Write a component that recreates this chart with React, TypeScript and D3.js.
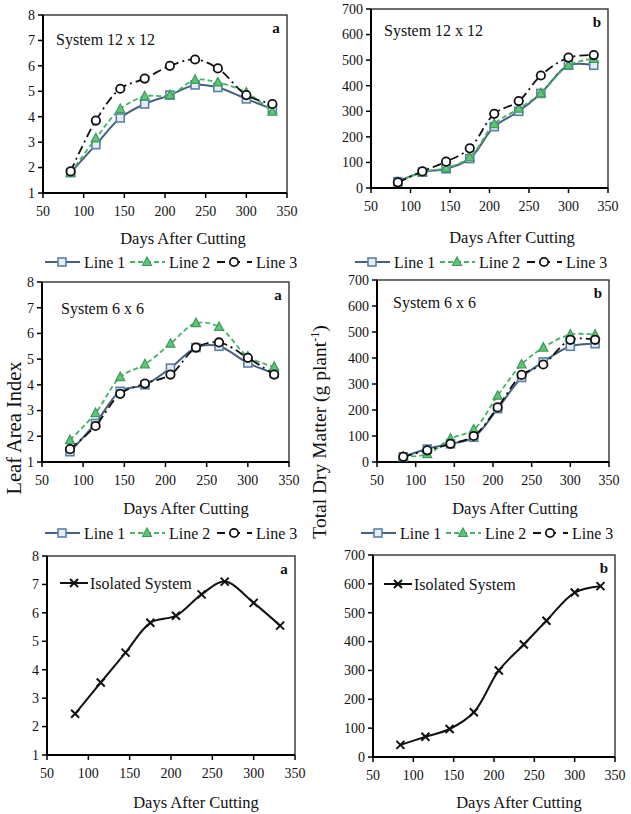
import React from 'react';
import * as d3 from 'd3';

// days after cutting (shared x values)
const days = [84, 115, 145, 175, 206, 237, 265, 300, 332];

// Leaf area index, system 12 x 12
const lai12Line1 = [1.8, 2.9, 3.95, 4.5, 4.85, 5.25, 5.15, 4.7, 4.3];
const lai12Line2 = [1.8, 3.15, 4.3, 4.8, 4.85, 5.45, 5.35, 4.95, 4.2];
const lai12Line3 = [1.85, 3.85, 5.1, 5.5, 6.0, 6.25, 5.9, 4.85, 4.5];

// Total dry matter, system 12 x 12
const tdm12Line1 = [25, 62, 75, 115, 240, 300, 370, 480, 480];
const tdm12Line2 = [22, 62, 78, 120, 250, 310, 370, 480, 505];
const tdm12Line3 = [22, 65, 103, 155, 290, 340, 440, 510, 520];

// Leaf area index, system 6 x 6
const lai6Line1 = [1.4, 2.5, 3.75, 4.0, 4.65, 5.45, 5.5, 4.85, 4.45];
const lai6Line2 = [1.85, 2.9, 4.3, 4.8, 5.6, 6.4, 6.25, 5.1, 4.7];
const lai6Line3 = [1.5, 2.4, 3.65, 4.05, 4.4, 5.45, 5.65, 5.05, 4.4];

// Total dry matter, system 6 x 6
const tdm6Line1 = [20, 50, 70, 95, 205, 325, 385, 445, 455];
const tdm6Line2 = [22, 30, 90, 125, 255, 375, 440, 490, 490];
const tdm6Line3 = [20, 45, 70, 100, 210, 335, 375, 470, 470];

// Isolated system
const laiIsolated = [2.45, 3.55, 4.6, 5.65, 5.9, 6.65, 7.1, 6.35, 5.55];
const tdmIsolated = [42, 70, 97, 155, 300, 390, 472, 570, 592];

const xTicks = [50, 100, 150, 200, 250, 300, 350];
const laiTicks = [1, 2, 3, 4, 5, 6, 7, 8];
const tdmTicks = [0, 100, 200, 300, 400, 500, 600, 700];
const lineNames = ['Line 1', 'Line 2', 'Line 3'];

const FONT = 'Liberation Serif, Times New Roman, serif';

const styles: any = {
  line1: { stroke: '#46617f', width: 2, dash: null, marker: 'square', mStroke: '#5b80a8', mFill: '#e6edf5' },
  line2: { stroke: '#45b267', width: 1.8, dash: '5,3', marker: 'triangle', mStroke: '#3a9e55', mFill: '#62c27b' },
  line3: { stroke: '#111', width: 1.8, dash: '9,4,2,4', marker: 'circle', mStroke: '#111', mFill: '#fff' },
  iso: { stroke: '#111', width: 2, dash: null, marker: 'x', mStroke: '#111', mFill: 'none' },
};

const T = (props: any) => <text fontFamily={FONT} fill="#111" {...props} />;

const Marker = ({ kind, x, y, st }: any) => {
  if (kind === 'square') return <rect x={x - 4} y={y - 4} width={8} height={8} fill={st.mFill} stroke={st.mStroke} strokeWidth={1.6} />;
  if (kind === 'triangle') return <path d={`M${x},${y - 5}L${x + 4.5},${y + 3.5}L${x - 4.5},${y + 3.5}Z`} fill={st.mFill} stroke={st.mStroke} strokeWidth={1.2} />;
  if (kind === 'circle') return <circle cx={x} cy={y} r={4.2} fill={st.mFill} stroke={st.mStroke} strokeWidth={1.8} />;
  return <path d={`M${x - 4},${y - 4}L${x + 4},${y + 4}M${x - 4},${y + 4}L${x + 4},${y - 4}`} stroke={st.mStroke} strokeWidth={2} />;
};

const Panel = ({ p }: any) => {
  const x = d3.scaleLinear().domain([50, 350]).range([p.left, p.right]);
  const y = d3.scaleLinear().domain(p.yDomain).range([p.bottom, p.top]);
  const line = d3.line<number>()
    .x((_, i) => x(days[i]))
    .y((d) => y(d))
    .curve(d3.curveCatmullRom.alpha(0.5));

  return (
    <g>
      <rect x={p.left} y={p.top} width={p.right - p.left} height={p.bottom - p.top} fill="none" stroke="#222" strokeWidth={1.3} />
      <line x1={p.left} x2={p.left} y1={p.top} y2={p.bottom} stroke="#000" strokeWidth={2} />
      <line x1={p.left} x2={p.right} y1={p.bottom} y2={p.bottom} stroke="#000" strokeWidth={2} />
      {p.yTicks.map((t: number) => (
        <g key={'y' + t}>
          <line x1={p.left - 5} x2={p.left} y1={y(t)} y2={y(t)} stroke="#000" strokeWidth={1.5} />
          <T x={p.left - 8} y={y(t)} dy="0.35em" textAnchor="end" fontSize={14}>{t}</T>
        </g>
      ))}
      {xTicks.map((t) => (
        <g key={'x' + t}>
          <line x1={x(t)} x2={x(t)} y1={p.bottom} y2={p.bottom + 5} stroke="#000" strokeWidth={1.5} />
          <T x={x(t)} y={p.bottom + 18} dy="0.35em" textAnchor="middle" fontSize={14}>{t}</T>
        </g>
      ))}
      <T x={p.titleX} y={p.titleY} dy="0.35em" textAnchor="middle" fontSize={16.5}>Days After Cutting</T>
      <T x={p.right - 11} y={p.top + 18} textAnchor="middle" fontSize={15} fontWeight="bold">{p.tag}</T>
      {p.systemLabel && (
        <T x={p.sysX} y={p.sysY} fontSize={16}>{p.systemLabel}</T>
      )}
      {p.series.map((s: any, k: number) => {
        const st = styles[s.style];
        return (
          <g key={'s' + k}>
            <path d={line(s.values) || ''} fill="none" stroke={st.stroke} strokeWidth={st.width} strokeDasharray={st.dash || undefined} />
            {s.values.map((v: number, i: number) => (
              <Marker key={i} kind={st.marker} x={x(days[i])} y={y(v)} st={st} />
            ))}
          </g>
        );
      })}
      {p.isoLegend && (
        <g>
          <line x1={p.isoLegend[0]} x2={p.isoLegend[0] + 28} y1={p.isoLegend[1]} y2={p.isoLegend[1]} stroke="#111" strokeWidth={2} />
          <Marker kind="x" x={p.isoLegend[0] + 14} y={p.isoLegend[1]} st={styles.iso} />
          <T x={p.isoLegend[0] + 30} y={p.isoLegend[1]} dy="0.35em" fontSize={16}>Isolated System</T>
        </g>
      )}
      {p.legendY && (
        <g>
          {['line1', 'line2', 'line3'].map((k, i) => {
            const st = styles[k];
            const lx = p.legendX + [0, 85, 172][i];
            const cy = p.legendY;
            return (
              <g key={k}>
                <line x1={lx} x2={lx + 35} y1={cy} y2={cy} stroke={st.stroke} strokeWidth={st.width}
                  strokeDasharray={k === 'line2' ? '5,3' : k === 'line3' ? '8,7' : undefined} />
                <Marker kind={st.marker} x={lx + 17} y={cy} st={st} />
                <T x={lx + 39} y={cy} dy="0.35em" fontSize={16}>{lineNames[i]}</T>
              </g>
            );
          })}
        </g>
      )}
    </g>
  );
};

const panels = [
  {
    left: 43, right: 287, top: 15, bottom: 193, yDomain: [1, 8], yTicks: laiTicks, tag: 'a',
    titleX: 183, titleY: 238, systemLabel: 'System 12 x 12', sysX: 56, sysY: 45, legendX: 45, legendY: 262,
    series: [
      { style: 'line1', values: lai12Line1 },
      { style: 'line2', values: lai12Line2 },
      { style: 'line3', values: lai12Line3 },
    ],
  },
  {
    left: 371, right: 608, top: 9, bottom: 188, yDomain: [0, 700], yTicks: tdmTicks, tag: 'b',
    titleX: 512, titleY: 237, systemLabel: 'System 12 x 12', sysX: 384, sysY: 36, legendX: 355, legendY: 262,
    series: [
      { style: 'line1', values: tdm12Line1 },
      { style: 'line2', values: tdm12Line2 },
      { style: 'line3', values: tdm12Line3 },
    ],
  },
  {
    left: 42, right: 289, top: 282, bottom: 462, yDomain: [1, 8], yTicks: laiTicks, tag: 'a',
    titleX: 186, titleY: 508, systemLabel: 'System 6 x 6', sysX: 61, sysY: 314, legendX: 45, legendY: 533,
    series: [
      { style: 'line1', values: lai6Line1 },
      { style: 'line2', values: lai6Line2 },
      { style: 'line3', values: lai6Line3 },
    ],
  },
  {
    left: 377, right: 609, top: 280, bottom: 462, yDomain: [0, 700], yTicks: tdmTicks, tag: 'b',
    titleX: 515, titleY: 508, systemLabel: 'System 6 x 6', sysX: 393, sysY: 308, legendX: 361, legendY: 533,
    series: [
      { style: 'line1', values: tdm6Line1 },
      { style: 'line2', values: tdm6Line2 },
      { style: 'line3', values: tdm6Line3 },
    ],
  },
  {
    left: 47, right: 295, top: 556, bottom: 755, yDomain: [1, 8], yTicks: laiTicks, tag: 'a',
    titleX: 196, titleY: 802, isoLegend: [60, 583],
    series: [{ style: 'iso', values: laiIsolated }],
  },
  {
    left: 373, right: 615, top: 555, bottom: 757, yDomain: [0, 700], yTicks: tdmTicks, tag: 'b',
    titleX: 519, titleY: 802, isoLegend: [384, 584],
    series: [{ style: 'iso', values: tdmIsolated }],
  },
];

export default function App() {
  return (
    <svg width={631} height={814} style={{ position: 'absolute', left: 0, top: 0, background: '#fff' }}>
      <rect width={631} height={814} fill="#fff" />
      {panels.map((p, i) => <Panel key={i} p={p} />)}
      <T transform="translate(14,428) rotate(-90)" textAnchor="middle" dy="0.35em" fontSize={20.5}>Leaf Area Index</T>
      <T transform="translate(319,432) rotate(-90)" textAnchor="middle" dy="0.35em" fontSize={19.5}>
        Total Dry Matter (g plant<tspan dy="-7" fontSize={12}>-1</tspan><tspan dy="7">)</tspan>
      </T>
    </svg>
  );
}
